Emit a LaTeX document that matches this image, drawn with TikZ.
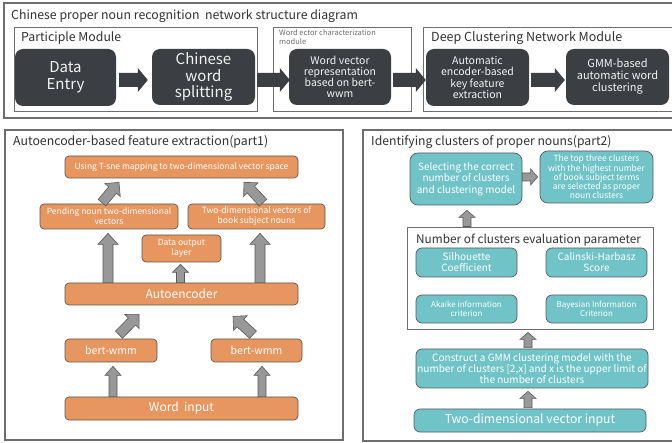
\documentclass[tikz,border=0pt]{standalone}
\usepackage{fontspec}
\setmainfont{Noto Sans CJK SC}
\usetikzlibrary{calc}
\definecolor{darkn}{RGB}{59,63,67}
\definecolor{orng}{RGB}{230,150,94}
\definecolor{tealn}{RGB}{112,196,200}
\definecolor{bgray}{RGB}{90,90,90}
\definecolor{agray}{RGB}{152,152,152}
\definecolor{framec}{RGB}{110,110,110}
\definecolor{labc}{RGB}{50,50,50}
\newcommand\fs[2]{\fontsize{#1}{#2}\selectfont}
% block arrow: [style]{from}{to}{shaft half width}{head half width}{head length}
\newcommand\blockarrow[6][]{%
  \path[#1] let \p1=(#2), \p2=(#3), \n1={atan2(\y2-\y1,\x2-\x1)}, \n2={veclen(\x2-\x1,\y2-\y1)} in
    ($(\p1)+({\n1+90}:#4)$) --
    ($(\p1)+(\n1:{\n2-#6})+({\n1+90}:#4)$) --
    ($(\p1)+(\n1:{\n2-#6})+({\n1+90}:#5)$) --
    (\p2) --
    ($(\p1)+(\n1:{\n2-#6})+({\n1-90}:#5)$) --
    ($(\p1)+(\n1:{\n2-#6})+({\n1-90}:#4)$) --
    ($(\p1)+({\n1-90}:#4)$) -- cycle;
}
\tikzset{
  frame/.style={draw=framec, line width=1.1pt},
  darkbox/.style={fill=darkn, rounded corners=8pt, text=white!95!black, align=center, inner sep=0pt},
  orbox/.style={fill=orng, draw=bgray, line width=0.7pt, rounded corners=4pt, text=white, align=center, inner sep=0pt},
  tlbox/.style={fill=tealn, draw=bgray, line width=0.7pt, rounded corners=6pt, text=white, align=center, inner sep=0pt},
  lab/.style={text=labc, inner sep=0pt, anchor=west},
  toparrow/.style={fill=darkn},
  grayarrow/.style={fill=agray, draw=bgray, line width=0.6pt, line join=miter},
}
\begin{document}
\begin{tikzpicture}[x=1pt,y=-1pt]
\clip (0,0) rectangle (672,443);
\fill[white] (0,0) rectangle (672,443);

% ---------- top strip ----------
\draw[frame] (4,3) rectangle (690,118);
\node[lab, font=\fs{12.3}{15}] (title) at (11,16) {Chinese proper noun recognition\ \ network structure diagram};
\draw[frame, line width=0.9pt] (14,27) rectangle (257,111);
\draw[frame, line width=0.9pt] (273,27) rectangle (411,111);
\draw[frame, line width=0.9pt] (423,27) rectangle (690,111);
\node[lab, font=\fs{12.3}{15}] (pm) at (21,38) {Participle Module};
\node[lab, anchor=north west, text=framec, align=left, font=\fs{7.5}{9}] (wm) at (279,29) {Word ector characterization\\module};
\node[lab, font=\fs{12.5}{15}] (dc) at (431,38) {Deep Clustering Network Module};

\node[darkbox, minimum width=101pt, minimum height=57pt, font=\fs{15}{16.5}] (data) at (65.5,77.5) {Data\\Entry};
\node[darkbox, minimum width=103pt, minimum height=56pt, font=\fs{15}{16.5}] (split) at (203.5,77) {Chinese\\word\\splitting};
\node[darkbox, minimum width=102pt, minimum height=56pt, font=\fs{10.5}{11}] (wvr) at (340,77) {Word vector\\representation\\based on bert-\\wwm};
\node[darkbox, minimum width=103pt, minimum height=57pt, font=\fs{10.5}{11.5}] (auto) at (477.5,77.5) {Automatic\\encoder-based\\key feature\\extraction};
\node[darkbox, minimum width=103pt, minimum height=56pt, font=\fs{11}{12}] (gmm) at (617.5,77) {GMM-based\\automatic word\\clustering};

\blockarrow[toparrow]{$(data.east)+(3,2.5)$}{$(split.west)+(-4,3)$}{7pt}{12pt}{10pt}
\blockarrow[toparrow]{$(split.east)+(2,3)$}{$(wvr.west)+(1,3)$}{7pt}{12pt}{10pt}
\blockarrow[toparrow]{$(wvr.east)+(2,3)$}{$(auto.west)+(0,2.5)$}{7pt}{12pt}{10pt}
\blockarrow[toparrow]{$(auto.east)+(2,2.5)$}{$(gmm.west)+(-1,3)$}{7pt}{12pt}{10pt}

% ---------- bottom left ----------
\draw[frame] (5,130) rectangle (343,440);
\node[lab, font=\fs{12.3}{15}] (t1) at (13,142) {Autoencoder-based feature extraction(part1)};
\node[orbox, minimum width=233pt, minimum height=22pt, font=\fs{8.5}{10}] (tsne) at (181.5,167) {Using T-sne mapping to two-dimensional vector space};
\node[orbox, minimum width=138pt, minimum height=25pt, font=\fs{8.5}{10}] (pend) at (109,216.5) {Pending noun two-dimensional\\vectors};
\node[orbox, minimum width=137pt, minimum height=25pt, font=\fs{8.5}{10}] (book) at (256.5,216.5) {Two-dimensional vectors of\\book subject nouns};
\node[orbox, minimum width=79pt, minimum height=27pt, font=\fs{8.5}{10}] (dout) at (181.5,248.5) {Data output\\layer};
\node[orbox, minimum width=233pt, minimum height=22pt, font=\fs{12}{14}] (aenc) at (181.5,294) {Autoencoder};
\node[orbox, minimum width=92pt, minimum height=23pt, font=\fs{10.5}{12}] (bertl) at (111,350.5) {bert-wmm};
\node[orbox, minimum width=91pt, minimum height=23pt, font=\fs{10.5}{12}] (bertr) at (256.5,350.5) {bert-wmm};
\node[orbox, minimum width=233pt, minimum height=23pt, font=\fs{12}{14}] (winp) at (181.5,408.5) {Word\ \ input};

\blockarrow[grayarrow]{$(pend.south |- aenc.north)+(-1,0)$}{$(pend.south)+(-1,4)$}{5pt}{10pt}{11pt}
\blockarrow[grayarrow]{$(book.south |- aenc.north)+(3.5,0)$}{$(book.south)+(3.5,4)$}{5pt}{10pt}{11pt}
\blockarrow[grayarrow]{$(dout.south |- aenc.north)+(-1,0)$}{$(dout.south)+(-1,2)$}{4pt}{8pt}{8pt}
\blockarrow[grayarrow]{$(pend.north)+(-7,-1)$}{$(tsne.south)+(-62.5,4)$}{5pt}{10pt}{10pt}
\blockarrow[grayarrow]{$(book.north)+(6.5,-1)$}{$(tsne.south)+(62.5,4)$}{5pt}{10pt}{10pt}
\blockarrow[grayarrow]{$(bertl.north)+(8,-4)$}{$(aenc.south)+(-42.5,9)$}{5pt}{10pt}{10pt}
\blockarrow[grayarrow]{$(bertr.north)+(-3.5,-4)$}{$(aenc.south)+(51.5,11)$}{5pt}{10pt}{10pt}
\blockarrow[grayarrow]{$(bertl.south |- winp.north)+(2,0)$}{$(bertl.south)+(2,4)$}{4pt}{8pt}{9pt}
\blockarrow[grayarrow]{$(bertr.south |- winp.north)+(5.5,0)$}{$(bertr.south)+(5.5,4)$}{4pt}{8pt}{9pt}

% ---------- right ----------
\draw[frame] (363,130) rectangle (690,441);
\node[lab, font=\fs{12.2}{15}] (t2) at (371,142) {Identifying clusters of proper nouns(part2)};
\node[tlbox, rounded corners=8pt, minimum width=112pt, minimum height=52pt, font=\fs{10}{11.5}] (sel) at (466,179) {Selecting the correct\\number of clusters\\and clustering model};
\node[tlbox, rounded corners=8pt, minimum width=113pt, minimum height=52pt, font=\fs{8.5}{9.3}] (top3) at (596.5,177) {The top three clusters\\with the highest number\\of book subject terms\\are selected as proper\\noun clusters};
\node[draw=framec, line width=0.9pt, minimum width=246pt, minimum height=102pt, inner sep=0pt] (evalbox) at (530,278) {};
\node[lab, font=\fs{11.8}{15}] (et) at (416,240) {Number of clusters evaluation parameter};
\node[tlbox, minimum width=101pt, minimum height=29pt, font=\fs{10}{11}] (sil) at (466.5,262.5) {Silhouette\\Coefficient};
\node[tlbox, minimum width=101pt, minimum height=29pt, font=\fs{10}{11}] (cal) at (596.5,262.5) {Calinski-Harbasz\\Score};
\node[tlbox, minimum width=101pt, minimum height=28pt, font=\fs{8}{9.5}] (aka) at (466.5,309) {Akaike information\\criterion};
\node[tlbox, minimum width=101pt, minimum height=28pt, font=\fs{8}{9.5}] (bay) at (596.5,309) {Bayesian Information\\Criterion};
\node[tlbox, minimum width=232pt, minimum height=39pt, font=\fs{10}{10.8}] (cons) at (532,368.5) {Construct a GMM clustering model with the\\number of clusters [2,x] and x is the upper limit of\\the number of clusters};
\node[tlbox, minimum width=232pt, minimum height=23pt, font=\fs{12.2}{15}] (vinp) at (530,420.5) {Two-dimensional vector input};

\blockarrow[grayarrow]{$(sel.east)+(0,-2)$}{$(top3.west)+(-2,0)$}{4pt}{8pt}{7pt}
\blockarrow[grayarrow]{$(sel.south |- evalbox.north)+(1,0)$}{$(sel.south)+(1,5)$}{4pt}{8pt}{7pt}
\blockarrow[grayarrow]{$(cons.north)+(-4,-1)$}{$(evalbox.south)+(-2,3)$}{4pt}{8pt}{7pt}
\blockarrow[grayarrow]{$(vinp.north)+(-2,-1)$}{$(cons.south)+(-4,3)$}{4pt}{8pt}{7pt}
\end{tikzpicture}
\end{document}
